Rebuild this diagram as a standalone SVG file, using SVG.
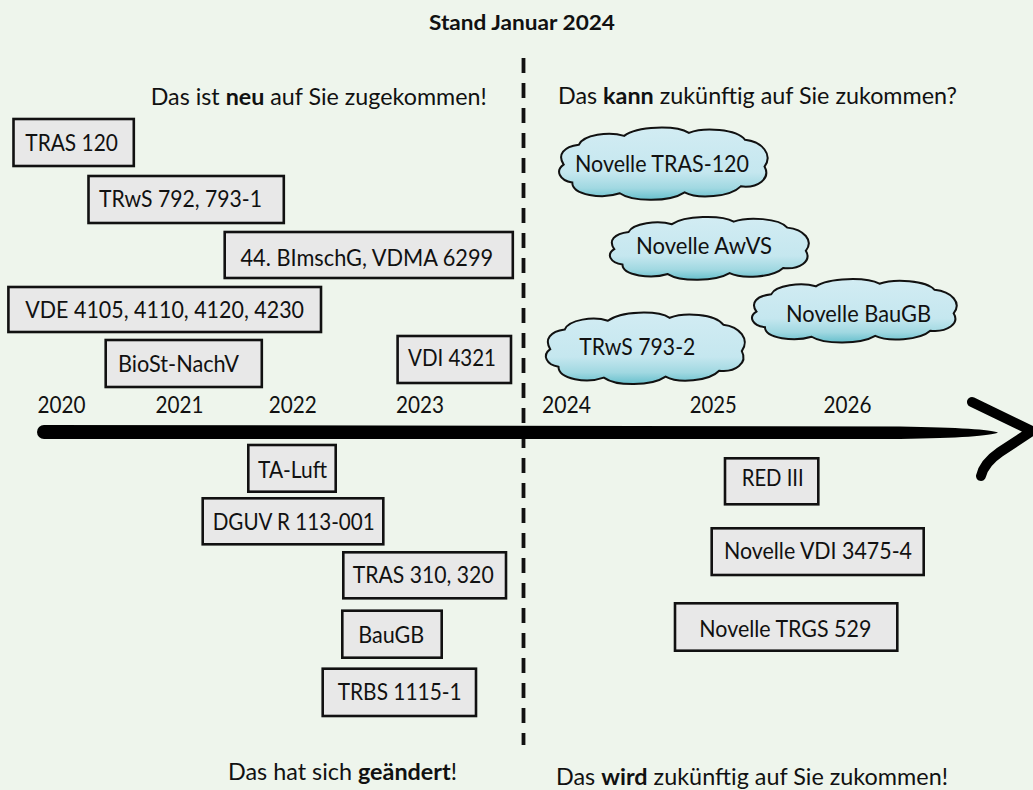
<svg xmlns="http://www.w3.org/2000/svg" width="1033" height="790" viewBox="0 0 1033 790">
<style>
  text { font-family: Lato, "Open Sans", "Liberation Sans", sans-serif; font-size: 23px; fill: #111; }
  .b { font-weight: bold; }
  .hd { font-size: 20px; font-weight: bold; }
  .box { fill: #e8e8e8; stroke: #111; stroke-width: 2.6; }
  .cloud { fill: url(#cg); stroke: #111; stroke-width: 2; vector-effect: non-scaling-stroke; }
</style>
<defs>
  <linearGradient id="cg" x1="0" y1="0" x2="0" y2="1">
    <stop offset="0" stop-color="#d2ecf3"/>
    <stop offset="0.62" stop-color="#c5e7ef"/>
    <stop offset="0.84" stop-color="#a0d8e1"/>
    <stop offset="1" stop-color="#66bfcc"/>
  </linearGradient>
  <path id="cloudshape" class="cloud" d="M 8 42 C 2 32, 8 24, 22 22 C 26 12, 50 8, 64 13 C 76 3, 112 2, 124 10 C 138 4, 168 6, 176 17 C 192 19, 202 32, 194 44 C 200 56, 188 66, 172 64 C 162 75, 132 77, 120 70 C 106 80, 72 80, 60 71 C 44 77, 16 73, 16 60 C 4 58, 0 48, 8 42 Z"/>
</defs>
<rect x="0" y="0" width="1033" height="790" fill="#eef5ec"/>

<g id="labels">
  <text class="hd" x="429" y="30" textLength="186" lengthAdjust="spacingAndGlyphs">Stand Januar 2024</text>
  <text x="150.7" y="105" textLength="336" lengthAdjust="spacingAndGlyphs">Das ist <tspan class="b">neu</tspan> auf Sie zugekommen!</text>
  <text x="558" y="104" textLength="399" lengthAdjust="spacingAndGlyphs">Das <tspan class="b">kann</tspan> zukünftig auf Sie zukommen?</text>
  <text x="228" y="780" textLength="229" lengthAdjust="spacingAndGlyphs">Das hat sich <tspan class="b">geändert</tspan>!</text>
  <text x="556" y="785" textLength="392" lengthAdjust="spacingAndGlyphs">Das <tspan class="b">wird</tspan> zukünftig auf Sie zukommen!</text>
  <text x="37.5" y="413" textLength="48" lengthAdjust="spacingAndGlyphs">2020</text>
  <text x="155.5" y="413" textLength="48" lengthAdjust="spacingAndGlyphs">2021</text>
  <text x="268.8" y="413" textLength="48" lengthAdjust="spacingAndGlyphs">2022</text>
  <text x="396" y="413" textLength="48" lengthAdjust="spacingAndGlyphs">2023</text>
  <text x="542" y="413" textLength="49" lengthAdjust="spacingAndGlyphs">2024</text>
  <text x="689.7" y="413" textLength="47" lengthAdjust="spacingAndGlyphs">2025</text>
  <text x="823.5" y="413" textLength="48" lengthAdjust="spacingAndGlyphs">2026</text>
</g>

<g id="connectors">
  <line x1="523.5" y1="58" x2="523.5" y2="745" stroke="#111" stroke-width="3.8" stroke-dasharray="15 10"/>
  <path d="M 44 425 L 900 426.5 C 960 427.5, 990 429.5, 998 432.5 C 990 436, 960 438, 900 439 L 44 439 A 7 7 0 0 1 44 425 Z" fill="#000"/>
  <path d="M 972 402 L 1032 431 L 1000 452 Q 984 463 981 476" fill="none" stroke="#000" stroke-width="10" stroke-linecap="round" stroke-linejoin="round"/>
</g>

<g id="node-tras120"><rect class="box" x="13.5" y="119" width="120.3" height="47"/><text x="25.3" y="151" textLength="92.6" lengthAdjust="spacingAndGlyphs">TRAS 120</text></g>
<g id="node-trws792"><rect class="box" x="88.5" y="176" width="195.3" height="47"/><text x="99" y="207.3" textLength="163" lengthAdjust="spacingAndGlyphs">TRwS 792, 793-1</text></g>
<g id="node-bimschg"><rect class="box" x="224.7" y="232" width="288.1" height="46"/><text x="240.5" y="265.7" textLength="252.7" lengthAdjust="spacingAndGlyphs">44. BImschG, VDMA 6299</text></g>
<g id="node-vde"><rect class="box" x="8.4" y="287" width="312.6" height="45"/><text x="25.3" y="318" textLength="278.7" lengthAdjust="spacingAndGlyphs">VDE 4105, 4110, 4120, 4230</text></g>
<g id="node-biost"><rect class="box" x="105.7" y="340" width="156.1" height="47"/><text x="118" y="371.7" textLength="121" lengthAdjust="spacingAndGlyphs">BioSt-NachV</text></g>
<g id="node-vdi4321"><rect class="box" x="397.6" y="336" width="113.4" height="47"/><text x="408" y="366" textLength="88" lengthAdjust="spacingAndGlyphs">VDI 4321</text></g>

<g id="node-taluft"><rect class="box" x="248.3" y="445" width="87.4" height="46.7"/><text x="258" y="478" textLength="69" lengthAdjust="spacingAndGlyphs">TA-Luft</text></g>
<g id="node-dguv"><rect class="box" x="202.7" y="498.3" width="180.6" height="46"/><text x="212.7" y="530" textLength="162" lengthAdjust="spacingAndGlyphs">DGUV R 113-001</text></g>
<g id="node-tras310"><rect class="box" x="343.3" y="552.3" width="162.7" height="46"/><text x="352.7" y="583.3" textLength="141" lengthAdjust="spacingAndGlyphs">TRAS 310, 320</text></g>
<g id="node-baugb"><rect class="box" x="342.3" y="610.7" width="99.4" height="47"/><text x="358.3" y="643.3" textLength="66" lengthAdjust="spacingAndGlyphs">BauGB</text></g>
<g id="node-trbs"><rect class="box" x="322.7" y="668.7" width="153.3" height="47.3"/><text x="337.7" y="700" textLength="124" lengthAdjust="spacingAndGlyphs">TRBS 1115-1</text></g>

<g id="node-red3"><rect class="box" x="725" y="458.3" width="93.3" height="46"/><text x="741.7" y="485.7" textLength="62" lengthAdjust="spacingAndGlyphs">RED III</text></g>
<g id="node-vdi3475"><rect class="box" x="711.7" y="528.3" width="212" height="46.7"/><text x="724" y="559" textLength="188" lengthAdjust="spacingAndGlyphs">Novelle VDI 3475-4</text></g>
<g id="node-trgs"><rect class="box" x="675" y="603.3" width="222.3" height="47.4"/><text x="699.3" y="636.7" textLength="172" lengthAdjust="spacingAndGlyphs">Novelle TRGS 529</text></g>

<g id="node-cloud-tras"><use href="#cloudshape" transform="translate(555,123) scale(1.08,0.99)"/><text x="575" y="171.7" textLength="174" lengthAdjust="spacingAndGlyphs">Novelle TRAS-120</text></g>
<g id="node-cloud-awvs"><use href="#cloudshape" transform="translate(606,213) scale(1.03,0.86)"/><text x="636" y="254" textLength="136" lengthAdjust="spacingAndGlyphs">Novelle AwVS</text></g>
<g id="node-cloud-baugb"><use href="#cloudshape" transform="translate(748,275) scale(1.06,0.87)"/><text x="786" y="321.7" textLength="145" lengthAdjust="spacingAndGlyphs">Novelle BauGB</text></g>
<g id="node-cloud-trws"><use href="#cloudshape" transform="translate(542,308) scale(1.03,0.98)"/><text x="579.3" y="355" textLength="116" lengthAdjust="spacingAndGlyphs">TRwS 793-2</text></g>
</svg>
